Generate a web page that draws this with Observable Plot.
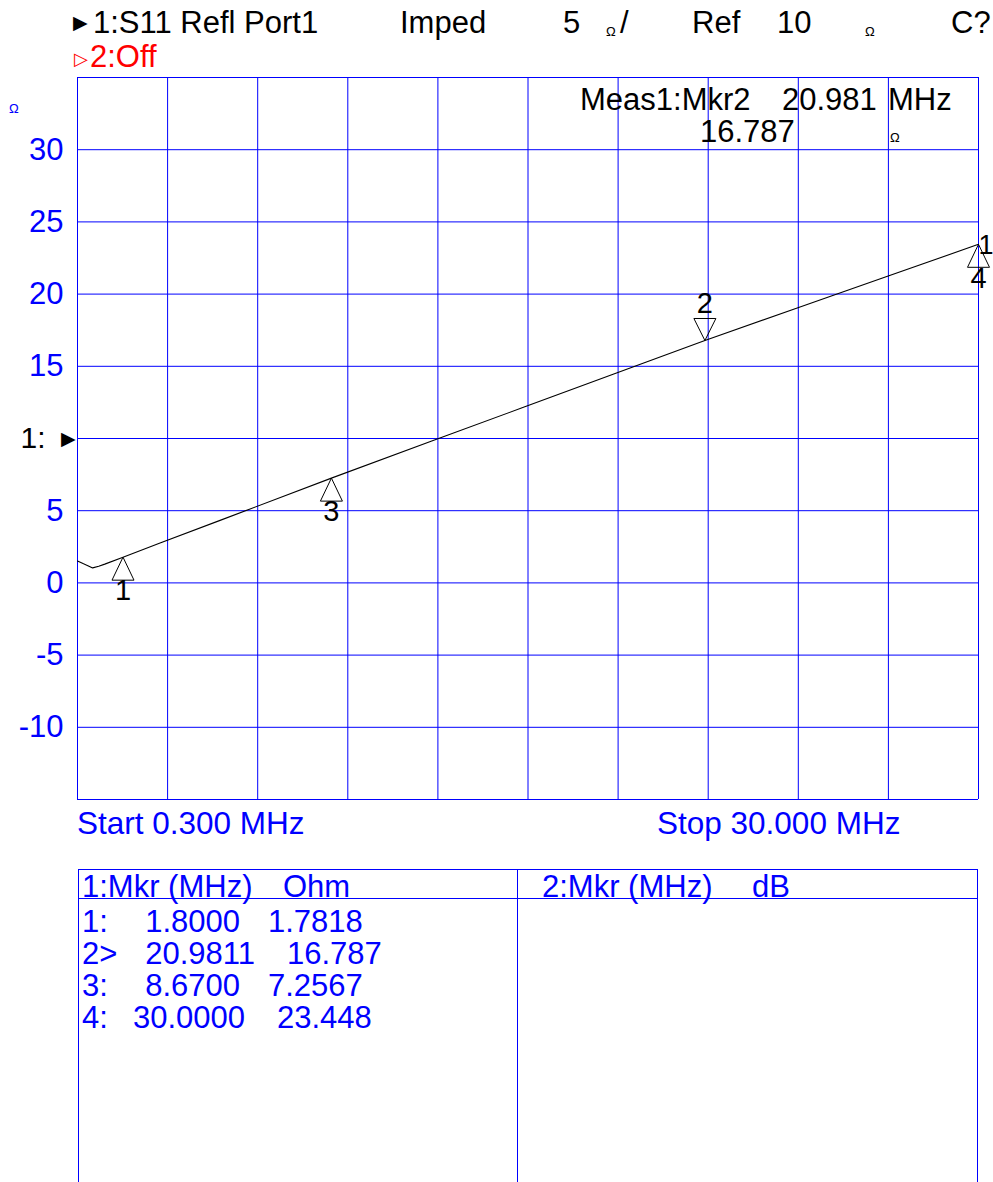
<!DOCTYPE html>
<html>
<head>
<meta charset="utf-8">
<script src="https://cdn.jsdelivr.net/npm/d3@7"></script>
<script src="https://cdn.jsdelivr.net/npm/@observablehq/plot@0.6"></script>
<style>
  html, body { margin: 0; padding: 0; background: #fff; }
  #wrap { position: relative; width: 993px; height: 1182px; overflow: hidden; font-family: "Liberation Sans", Arial, sans-serif; }
  #wrap svg { position: absolute; left: 0; top: 0; }
</style>
</head>
<body>
<div id="wrap"></div>
<script>
// ---- Data ----
const freqMHz = [0.3, 0.5, 0.8, 1.0, 1.2, 1.8, 3, 5, 8.67, 12, 15, 18, 20.9811, 24, 27, 30];
const ohm     = [1.52, 1.32, 1.04, 1.15, 1.3, 1.7818, 2.74, 4.33, 7.2567, 9.84, 12.16, 14.48, 16.787, 19.02, 21.23, 23.448];

const markerNum  = [1, 2, 3, 4];
const markerFreq = [1.8000, 20.9811, 8.6700, 30.0000];
const markerOhm  = [1.7818, 16.787, 7.2567, 23.448];
const markerDir  = ["up", "down", "up", "up"];
const markerFreqText = ["1.8000", "20.9811", "8.6700", "30.0000"];
const markerOhmText  = ["1.7818", "16.787", "7.2567", "23.448"];
const markerRowLabel = ["1:", "2>", "3:", "4:"];

const yTickLabels = [-10, -5, 0, 5, 15, 20, 25, 30];
const startMHz = 0.3, stopMHz = 30, refOhm = 10, scaleOhm = 5;

// ---- Build tables for the library ----
const trace = freqMHz.map((f, i) => ({f, v: ohm[i]}));
const markers = markerNum.map((n, i) => ({n, f: markerFreq[i], v: markerOhm[i], dir: markerDir[i]}));

const BLUE = "#0000ff";
const FONT = "'Liberation Sans', Arial, sans-serif";

const upTri = { draw(ctx) { ctx.moveTo(0, 0); ctx.lineTo(11, 23); ctx.lineTo(-11, 23); ctx.closePath(); } };
const downTri = { draw(ctx) { ctx.moveTo(0, 0); ctx.lineTo(11, -22); ctx.lineTo(-11, -22); ctx.closePath(); } };

const xGrid = d3.range(11).map(i => startMHz + i * (stopMHz - startMHz) / 10);
const yGrid = d3.range(11).map(i => refOhm - 5 * scaleOhm + i * scaleOhm);

const chart = Plot.plot({
  width: 993,
  height: 850,
  marginLeft: 77,
  marginRight: 15,
  marginTop: 77,
  marginBottom: 51,
  style: { fontFamily: FONT, background: "transparent" },
  x: { domain: [startMHz, stopMHz], axis: null },
  y: { domain: [refOhm - 5 * scaleOhm, refOhm + 5 * scaleOhm], axis: null },
  marks: [
    Plot.ruleX(xGrid, { stroke: BLUE, strokeWidth: 1 }),
    Plot.ruleY(yGrid, { stroke: BLUE, strokeWidth: 1 }),
    Plot.axisY(yTickLabels, { tickSize: 0, tickPadding: 14, fontSize: 31, fill: BLUE, label: null, tickFormat: d => String(d).replace("−", "-") }),
    Plot.text([refOhm], { y: d => d, frameAnchor: "left", text: () => "1:", dx: -32, textAnchor: "end", fontSize: 30, fill: "black" }),
    Plot.text([refOhm], { y: d => d, frameAnchor: "left", text: () => "▶", dx: -2, textAnchor: "end", fontSize: 19, fill: "black" }),
    Plot.line(trace, { x: "f", y: "v", stroke: "black", strokeWidth: 1.1 }),
    Plot.dot(markers.filter(d => d.dir === "up"), { x: "f", y: "v", symbol: upTri, r: 5, fill: "none", stroke: "black", strokeWidth: 1 }),
    Plot.dot(markers.filter(d => d.dir === "down"), { x: "f", y: "v", symbol: downTri, r: 5, fill: "none", stroke: "black", strokeWidth: 1 }),
    Plot.text(markers.filter(d => d.dir === "up"), { x: "f", y: "v", text: d => String(d.n), dy: 34, fontSize: 29, fill: "black" }),
    Plot.text(markers.filter(d => d.dir === "down"), { x: "f", y: "v", text: d => String(d.n), dy: -37, fontSize: 29, fill: "black" }),
    Plot.text([trace[trace.length - 1]], { x: "f", y: "v", text: () => "1", dx: 0, dy: 1, textAnchor: "start", fontSize: 27, fill: "black" })
  ]
});
chart.style.overflow = "visible";
document.getElementById("wrap").appendChild(chart);

// ---- Annotation overlay (header, readouts, marker table) ----
const svg = d3.select("#wrap").append("svg")
  .attr("width", 993).attr("height", 1182)
  .style("font-family", FONT)
  .style("pointer-events", "none");

function t(x, y, s, opts = {}) {
  svg.append("text").attr("x", x).attr("y", y)
    .attr("font-size", opts.size || 31)
    .attr("fill", opts.fill || "black")
    .attr("text-anchor", opts.anchor || "start")
    .style("white-space", "pre")
    .text(s);
}
// header line 1
t(73, 29, "▶", { size: 19 });
t(93, 33, "1:S11 Refl Port1");
t(400, 33, "Imped");
t(563, 33, String(scaleOhm));
t(606, 36, "Ω", { size: 13 });
t(620, 33, "/");
t(692, 33, "Ref");
t(777, 33, String(refOhm));
t(865, 36, "Ω", { size: 13 });
t(951, 33, "C?");
// header line 2
t(74, 65, "▷", { size: 18, fill: "red" });
t(90, 67, "2:Off", { fill: "red" });
// left unit
t(9, 113, "Ω", { size: 13, fill: BLUE });
// Marker readout
t(580, 110, "Meas1:Mkr2");
t(782, 110, "20.981");
t(888, 110, "MHz");
t(700, 142, markerOhmText[1]);
t(890, 142, "Ω", { size: 13 });
// Start / Stop
t(77, 834, `Start ${startMHz.toFixed(3)} MHz`, { fill: BLUE, size: 31.5 });
t(657, 834, `Stop ${stopMHz.toFixed(3)} MHz`, { fill: BLUE, size: 31.5 });

// table lines
function ln(x1, y1, x2, y2) {
  svg.append("line").attr("x1", x1).attr("y1", y1).attr("x2", x2).attr("y2", y2)
    .attr("stroke", BLUE).attr("stroke-width", 1).attr("shape-rendering", "crispEdges");
}
ln(78, 869.5, 978, 869.5);
ln(78, 898.5, 978, 898.5);
ln(78.5, 869, 78.5, 1182);
ln(517.5, 869, 517.5, 1182);
ln(977.5, 869, 977.5, 1182);

t(82, 897, "1:Mkr (MHz)", { fill: BLUE });
t(283, 897, "Ohm", { fill: BLUE });
t(542, 897, "2:Mkr (MHz)", { fill: BLUE });
t(752, 897, "dB", { fill: BLUE });

const rowBase = [932, 964, 996, 1028];
const freqRight = [240, 255, 240, 245], ohmLeft = [268, 287, 268, 277];
markerNum.forEach((n, i) => {
  t(82, rowBase[i], markerRowLabel[i], { fill: BLUE });
  t(freqRight[i], rowBase[i], markerFreqText[i], { fill: BLUE, anchor: "end" });
  t(ohmLeft[i], rowBase[i], markerOhmText[i], { fill: BLUE });
});
</script>
</body>
</html>
